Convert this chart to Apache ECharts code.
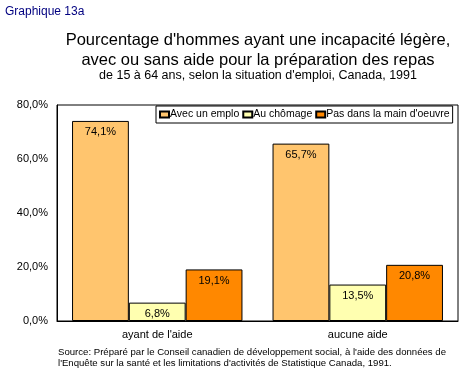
<!DOCTYPE html>
<html>
<head>
<meta charset="utf-8">
<script src="https://cdn.jsdelivr.net/npm/echarts@6/dist/echarts.min.js"></script>
<style>html,body{margin:0;padding:0;background:#fff}#c{width:470px;height:370px}</style>
</head>
<body>
<div id="c"></div>
<script>
var categories = ["ayant de l'aide", "aucune aide"];
var seriesNames = ["Avec un emploi", "Au chômage", "Pas dans la main d'oeuvre"];
var avecEmploi = [74.1, 65.7];
var auChomage = [6.8, 13.5];
var pasMainOeuvre = [19.1, 20.8];
var yTicks = [0, 20, 40, 60, 80];
var colors = ['#FFC56E', '#FFFFB0', '#FF8800'];
var FONT = '"Liberation Sans", Arial, sans-serif';

function fr(v, d) { return v.toFixed(d).replace('.', ','); }

var chart = echarts.init(document.getElementById('c'), null, {renderer: 'canvas'});
var data = [avecEmploi, auChomage, pasMainOeuvre];
chart.setOption({
  animation: false,
  backgroundColor: '#fff',
  textStyle: {fontFamily: FONT},
  title: [
    {text: 'Graphique 13a', left: 5, top: 6, padding: 0, textStyle: {color: '#000080', fontSize: 12, fontWeight: 'normal', fontFamily: FONT}},
    {text: "Pourcentage d'hommes ayant une incapacité légère,\navec ou sans aide pour la préparation des repas", left: 258, textAlign: 'center', top: 30, padding: 0,
     textStyle: {color: '#000', fontSize: 16.5, fontWeight: 'normal', lineHeight: 20, fontFamily: FONT}},
    {text: "de 15 à 64 ans, selon la situation d'emploi, Canada, 1991", left: 258, textAlign: 'center', top: 69, padding: 0,
     textStyle: {color: '#000', fontSize: 12.5, fontWeight: 'normal', lineHeight: 14, fontFamily: FONT}},
    {text: "Source: Préparé par le Conseil canadien de développement social, à l'aide des données de\nl'Enquête sur la santé et les limitations d'activités de Statistique Canada, 1991.", left: 58, top: 347, padding: 0,
     textStyle: {color: '#000', fontSize: 9.6, fontWeight: 'normal', lineHeight: 11, fontFamily: FONT}}
  ],
  legend: {
    data: seriesNames,
    left: 156, top: 106,
    padding: [3, 3, 3, 3],
    itemGap: 3,
    itemWidth: 9, itemHeight: 6,
    backgroundColor: '#fff',
    borderColor: '#000', borderWidth: 1,
    icon: 'rect',
    formatter: function(n){ return n === 'Avec un emploi' ? 'Avec un emplo' : n; },
    textStyle: {fontSize: 10.5, color: '#000', padding: [0, 0, 0, -4], fontFamily: FONT}
  },
  grid: {left: 57, right: 12, top: 105, bottom: 49, show: true, borderColor: '#000', borderWidth: 1, containLabel: false},
  xAxis: {
    type: 'category', data: categories,
    axisLine: {lineStyle: {color: '#000'}},
    axisTick: {show: false},
    axisLabel: {color: '#000', fontSize: 11, margin: 8, fontFamily: FONT}
  },
  yAxis: {
    type: 'value', min: 0, max: 80, interval: 20,
    axisLine: {show: true, lineStyle: {color: '#000'}},
    axisTick: {show: false},
    splitLine: {show: false},
    axisLabel: {color: '#000', fontSize: 11, margin: 9, fontFamily: FONT, formatter: function(v){ return fr(v,1) + '%'; }}
  },
  series: seriesNames.map(function(n, i){
    return {
      name: n, type: 'bar', data: data[i],
      barGap: '0%', barCategoryGap: '15%',
      itemStyle: {color: colors[i], borderColor: '#000', borderWidth: 1},
      label: {show: true, position: 'insideTop', distance: 6, color: '#000', fontSize: 11, fontFamily: FONT,
              formatter: function(p){ return fr(p.value,1) + '%'; }}
    };
  })
});
</script>
</body>
</html>
